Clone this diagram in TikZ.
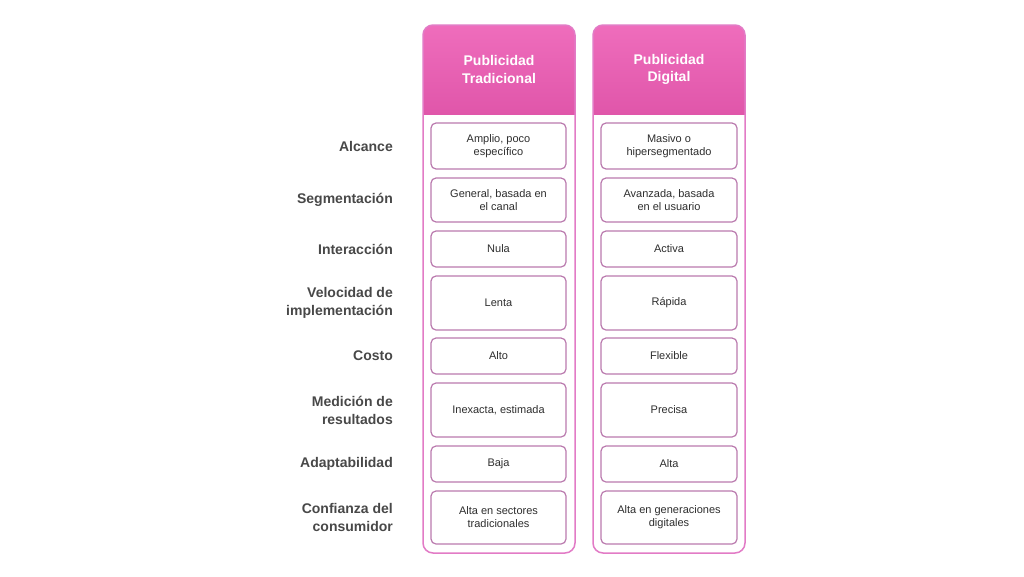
\documentclass[tikz,border=0pt]{standalone}
\usepackage{fontspec}
\setmainfont{Liberation Sans}
\definecolor{pinktop}{HTML}{EF6DBC}
\definecolor{pinkbot}{HTML}{E056AA}
\definecolor{colline}{HTML}{E27BC6}
\definecolor{cellline}{HTML}{BA7AAE}
\definecolor{labtext}{HTML}{484848}
\definecolor{celltext}{HTML}{2E2E2E}
\tikzset{
  rowlabel/.style={anchor=east,align=right,text=labtext,font=\fontsize{14}{18}\selectfont\bfseries,inner sep=0pt},
  cellbox/.style={draw=cellline,line width=1.2pt,rounded corners=5pt,fill=white,align=center,
    text=celltext,font=\fontsize{11}{13}\selectfont,inner sep=0pt},
  headtext/.style={align=center,text=white,font=\fontsize{14}{17.5}\selectfont\bfseries}
}
\begin{document}
\begin{tikzpicture}[x=1pt,y=-1pt]
\useasboundingbox[fill=white] (0,0) rectangle (1024,576);
% columns with shaded headers
\foreach \cx/\name/\txt in {499/trad/{Publicidad\\Tradicional},669/dig/{Publicidad\\Digital}}{
  \begin{scope}
    \clip[rounded corners=10pt] (\cx-76,25) rectangle (\cx+76,553);
    \shade[top color=pinktop,bottom color=pinkbot] (\cx-76,25) rectangle (\cx+76,114);
  \end{scope}
  \draw[colline,line width=1.5pt,rounded corners=10pt] (\cx-76,25) rectangle (\cx+76,553);
  \node[headtext] (head-\name) at (\cx,69.5) {\txt};
}
% rows
\foreach \i/\y/\h/\lab/\a/\b in {
  1/146/46/{Alcance}/{Amplio, poco\\específico}/{Masivo o\\hipersegmentado},
  2/200/44/{Segmentación}/{General, basada en\\el canal}/{Avanzada, basada\\en el usuario},
  3/249/36/{Interacción}/{Nula}/{Activa},
  4/303/54/{Velocidad de\\implementación}/{Lenta}/{Rápida},
  5/356/36/{Costo}/{Alto}/{Flexible},
  6/410/54/{Medición de\\resultados}/{Inexacta, estimada}/{Precisa},
  7/464/36/{Adaptabilidad}/{Baja}/{Alta},
  8/517.5/53/{Confianza del\\consumidor}/{Alta en sectores\\tradicionales}/{Alta en generaciones\\digitales}}{
  \node[rowlabel] (lab-\i) at (393,\y) {\lab};
  \node[cellbox,minimum width=135pt,minimum height=\h pt] (trad-\i) at (498.5,\y) {\a};
  \node[cellbox,minimum width=136pt,minimum height=\h pt] (dig-\i) at (669,\y) {\b};
}
\end{tikzpicture}
\end{document}
